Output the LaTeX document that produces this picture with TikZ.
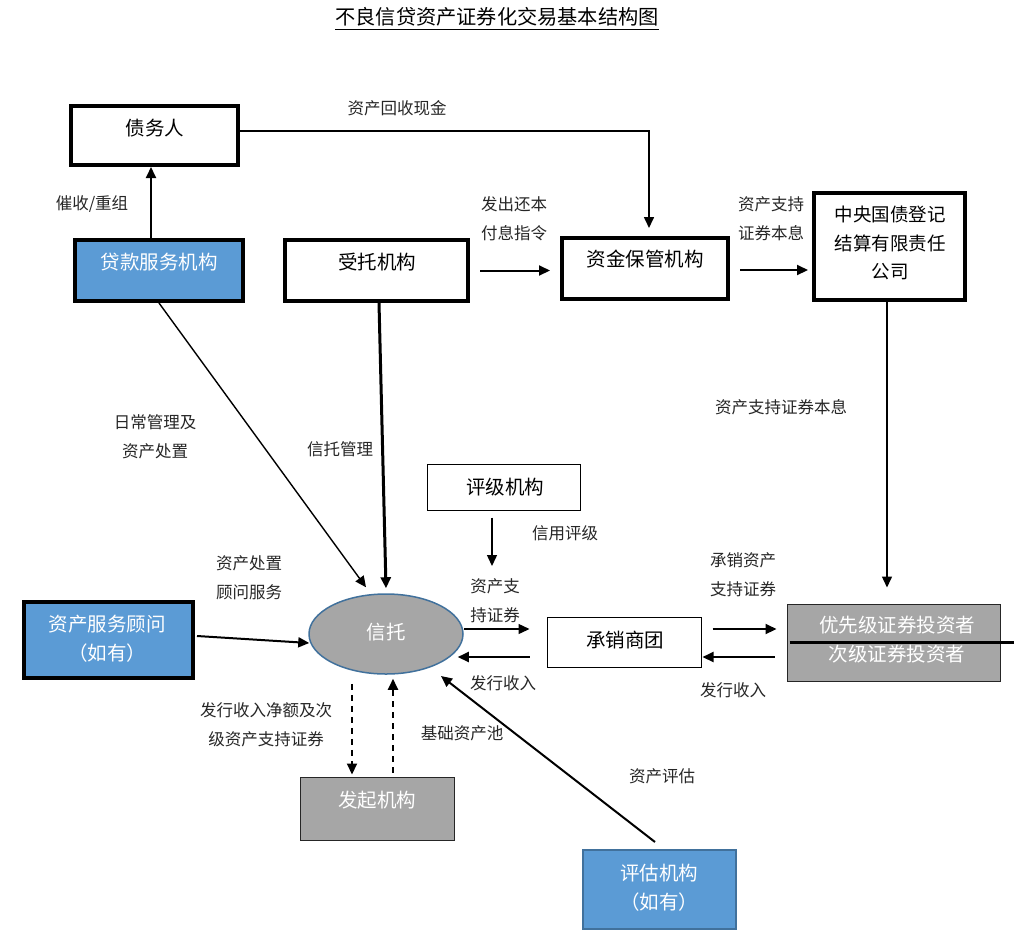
\documentclass[tikz,border=0pt]{standalone}
\usepackage{fontspec}
\newfontfamily\cjk{Noto Sans CJK SC}
\usetikzlibrary{arrows.meta,shapes.geometric}
\definecolor{boxblue}{HTML}{5B9BD5}
\definecolor{boxgray}{HTML}{A6A6A6}
\definecolor{edgeblue}{HTML}{41719C}
\definecolor{lbltext}{HTML}{262626}
\begin{document}
\begin{tikzpicture}[x=1pt,y=-1pt,
  lbl/.style={font=\cjk\fontsize{16.5}{29}\selectfont, text=lbltext, align=center, inner sep=0},
  btxt/.style={font=\cjk\fontsize{19.5}{29}\selectfont, align=center, inner sep=0},
  wtxt/.style={btxt, text=white},
  thickbox/.style={draw, line width=4pt, inner sep=0},
  thinbox/.style={draw, line width=1pt, inner sep=0},
  arr/.style={-{Triangle[length=11pt,width=10pt]}, line width=2pt},
  tarr/.style={-{Triangle[length=11pt,width=10pt]}, line width=1.4pt},
  darr/.style={arr, dashed, dash pattern=on 6pt off 5pt},
]
\useasboundingbox (0,0) rectangle (1035,938);

% title
\node[btxt, font=\cjk\fontsize{20.2}{24}\selectfont] (title) at (497,17) {不良信贷资产证券化交易基本结构图};
\draw[line width=1.2pt] ([yshift=-3pt]title.south west) -- ([yshift=-3pt]title.south east);

% boxes
\node[thickbox, minimum width=167, minimum height=59] (debtor) at (154.5,135.5) {};
\node[btxt] (debtor-t) at (155,128) {债务人};

\node[thickbox, fill=boxblue, minimum width=168, minimum height=61] (servicer) at (159,270.5) {};
\node[wtxt] (servicer-t) at (159,262) {贷款服务机构};

\node[thickbox, minimum width=183, minimum height=61] (trustee) at (376.5,270.5) {};
\node[btxt] (trustee-t) at (377,262) {受托机构};

\node[thickbox, minimum width=166, minimum height=61] (custodian) at (645,268.5) {};
\node[btxt] (custodian-t) at (645,259) {资金保管机构};

\node[thickbox, minimum width=151, minimum height=107] (ccdc) at (889.5,246.5) {};
\node[btxt, font=\cjk\fontsize{18.5}{28.5}\selectfont] (ccdc-t) at (890,243) {中央国债登记\\结算有限责任\\公司};

\node[thinbox, fill=boxgray, draw=black!85, minimum width=213, minimum height=77] (investors) at (893.5,642.5) {};
\node[wtxt] (investors-t) at (897,640) {优先级证券投资者\\次级证券投资者};
\draw[line width=3pt] ([xshift=3pt]investors.west) -- ([xshift=13pt]investors.east);

\node[thinbox, minimum width=154, minimum height=50] (underwriter) at (624,642) {};
\node[btxt] (underwriter-t) at (625,640) {承销商团};

\node[thinbox, minimum width=153, minimum height=46] (rating) at (503.5,487) {};
\node[btxt] (rating-t) at (505,487) {评级机构};

\node[ellipse, draw=edgeblue, fill=boxgray, line width=1.5pt, minimum width=154, minimum height=80, inner sep=0] (trust) at (386,634) {};
\node[wtxt] (trust-t) at (386,632) {信托};

\node[thickbox, fill=boxblue, minimum width=169, minimum height=76] (advisor) at (108.5,640) {};
\node[wtxt] (advisor-t) at (107,638.5) {资产服务顾问\\（如有）};

\node[thinbox, fill=boxgray, draw=black!85, minimum width=154, minimum height=63] (originator) at (377,808.5) {};
\node[wtxt] (originator-t) at (377,800) {发起机构};

\node[draw=edgeblue, line width=2pt, fill=boxblue, inner sep=0, minimum width=153, minimum height=79] (assessor) at (659.5,889.5) {};
\node[wtxt] (assessor-t) at (659,888) {评估机构\\（如有）};

% connectors
\draw[arr] ([xshift=-8pt]servicer.north) -- ([xshift=-8pt]servicer.north |- debtor.south);
\node[lbl] (l-collect) at (92,204) {催收/重组};

\draw[tarr, line width=1.6pt] ([yshift=4.5pt]debtor.east) -| ([xshift=4pt,yshift=8pt]custodian.north);
\node[lbl] (l-cash) at (397,108) {资产回收现金};

\draw[arr] ([xshift=10pt]trustee.east) -- ([xshift=-10pt]trustee.east -| custodian.west);
\node[lbl] (l-instr) at (514,219) {发出还本\\付息指令};

\draw[arr] ([xshift=10pt,yshift=-1.5pt]custodian.east) -- ([xshift=-4pt,yshift=-1.5pt]custodian.east -| ccdc.west);
\node[lbl] (l-pi) at (771,219) {资产支持\\证券本息};

\draw[tarr] ([xshift=-2.5pt]ccdc.south) -- ([xshift=-2.5pt,yshift=16pt]ccdc.south |- investors.north);
\node[lbl] (l-pi2) at (781,407) {资产支持证券本息};

\coordinate (ratingend) at (492,566);
\draw[tarr] ([xshift=-11.5pt,yshift=-7pt]rating.south) -- (ratingend);
\node[lbl] (l-rating) at (565,533) {信用评级};

\draw[tarr] ([yshift=5pt]trust.east) -- ([xshift=-17pt,yshift=5pt]trust.east -| underwriter.west);
\draw[arr] ([xshift=-17pt,yshift=-15pt]underwriter.west) -- ([xshift=-6pt,yshift=-23pt]trust.east);
\node[lbl] (l-abs) at (495,601) {资产支\\持证券};
\node[lbl] (l-rev1) at (503,683) {发行收入};

\draw[arr] ([xshift=11pt,yshift=13pt]underwriter.east) -- ([xshift=-10pt,yshift=13.5pt]investors.west);
\draw[arr] ([xshift=-12pt,yshift=-14.5pt]investors.west) -- ([xshift=1pt,yshift=-15pt]underwriter.east);
\node[lbl] (l-uw) at (743,575) {承销资产\\支持证券};
\node[lbl] (l-rev2) at (733,690) {发行收入};

\draw[tarr] (servicer.south) -- ([xshift=-20pt,yshift=6pt]trust.north);
\node[lbl] (l-daily) at (155,437) {日常管理及\\资产处置};

\draw[arr, line width=3pt] ([xshift=2.5pt]trustee.south) -- ([yshift=5pt]trust.north);
\node[lbl] (l-trustmgmt) at (340,449) {信托管理};

\draw[arr] ([xshift=2pt,yshift=4pt]advisor.east) -- ([xshift=1pt,yshift=-9pt]trust.west);
\node[lbl] (l-advice) at (249,578) {资产处置\\顾问服务};

\draw[darr] ([xshift=-34pt,yshift=-9pt]trust.south) -- ([xshift=-25pt,yshift=2pt]originator.north);
\draw[darr] ([xshift=16pt,yshift=4pt]originator.north) -- ([xshift=7pt,yshift=-4pt]trust.south);
\node[lbl] (l-net) at (266,725) {发行收入净额及次\\级资产支持证券};
\node[lbl] (l-pool) at (462,733) {基础资产池};

\draw[arr] ([xshift=-4.5pt,yshift=7pt]assessor.north) -- ([xshift=55pt,yshift=-42pt]trust.center);
\node[lbl] (l-assess) at (662,776) {资产评估};
\end{tikzpicture}
\end{document}
